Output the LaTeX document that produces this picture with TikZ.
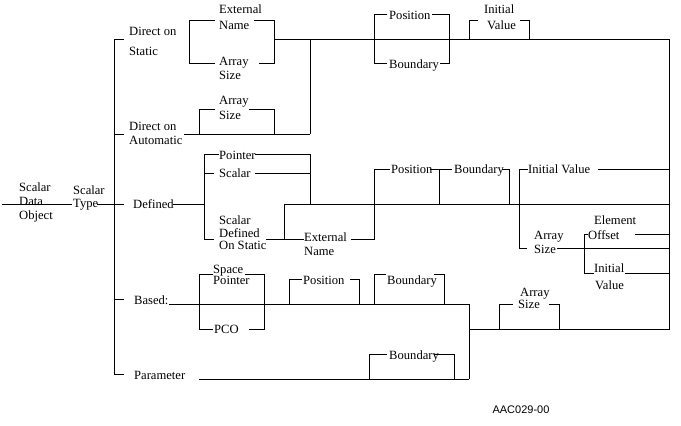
\documentclass[tikz,border=0pt]{standalone}
\usepackage{fontspec}
\setmainfont{Liberation Serif}
\newfontfamily\codefont{Liberation Sans}
\begin{document}
\begin{tikzpicture}[x=1pt,y=-1pt,
  rr/.style={line width=0.8pt},
  lbl/.style={inner sep=0pt,anchor=base west,font=\fontsize{12.6}{14}\selectfont}]
\useasboundingbox (0,0) rectangle (681,426);
% ---------- labels (baseline = centre + 4) ----------
\node[lbl] (sdo1) at (19,191) {Scalar};
\node[lbl] (sdo2) at (19,205) {Data};
\node[lbl] (sdo3) at (19,219) {Object};
\node[lbl] (st1) at (73,194) {Scalar};
\node[lbl] (st2) at (73,207) {Type};
\node[lbl] (dos1) at (129,35) {Direct on};
\node[lbl] (dos2) at (129,55) {Static};
\node[lbl] (en1) at (219,13) {External};
\node[lbl] (en2) at (219,29) {Name};
\node[lbl] (as1) at (219,65) {Array};
\node[lbl] (as2) at (219,79) {Size};
\node[lbl] (as3) at (219,104) {Array};
\node[lbl] (as4) at (219,119) {Size};
\node[lbl] (doa1) at (129,130) {Direct on};
\node[lbl] (doa2) at (129,144) {Automatic};
\node[lbl] (pos1) at (389,19) {Position};
\node[lbl] (bnd1) at (389,68) {Boundary};
\node[lbl] (iv1) at (484,13) {Initial};
\node[lbl] (iv2) at (487,29) {Value};
\node[lbl] (def) at (133,208) {Defined};
\node[lbl] (ptr) at (219,159) {Pointer};
\node[lbl] (scl) at (219,177) {Scalar};
\node[lbl] (sdf1) at (219,224) {Scalar};
\node[lbl] (sdf2) at (219,237) {Defined};
\node[lbl] (sdf3) at (219,249) {On Static};
\node[lbl] (en3) at (304,241) {External};
\node[lbl] (en4) at (304,255) {Name};
\node[lbl] (pos2) at (391,173) {Position};
\node[lbl] (bnd2) at (454,173) {Boundary};
\node[lbl] (iv3) at (528,173) {Initial Value};
\node[lbl] (eo1) at (594,224) {Element};
\node[lbl] (eo2) at (588,239) {Offset};
\node[lbl] (as5) at (534,239) {Array};
\node[lbl] (as6) at (534,253) {Size};
\node[lbl] (iv4) at (594,272) {Initial};
\node[lbl] (iv5) at (595,289) {Value};
\node[lbl] (bsd) at (134,304) {Based:};
\node[lbl] (sp1) at (213,273) {Space};
\node[lbl] (sp2) at (213,284) {Pointer};
\node[lbl] (pco) at (214,333) {PCO};
\node[lbl] (pos3) at (303,284) {Position};
\node[lbl] (bnd3) at (387,284) {Boundary};
\node[lbl] (as7) at (520,296) {Array};
\node[lbl] (as8) at (518,308) {Size};
\node[lbl] (bnd4) at (389,359) {Boundary};
\node[lbl] (par) at (134,379) {Parameter};
\node[inner sep=0pt,anchor=base,font=\codefont\fontsize{11}{13}\selectfont] (code) at (521,413) {AAC029-00};
% ---------- railroad lines ----------
% entry
\draw[rr] (2,204) -- (72,204);
\draw[rr] (97,204) -- (124,204);
\draw[rr] (173,204) -- (204,204);
% main vertical and ticks
\draw[rr] (124,39) -- (114,39) -- (114,374) -- (124,374);
\draw[rr] (114,134) -- (124,134);
\draw[rr] (114,299) -- (124,299);
% Direct on Static
\draw[rr] (215,20) -- (189,20) -- (189,63) -- (215,63);
\draw[rr] (254,20) -- (274,20) -- (274,63) -- (259,63);
\draw[rr] (274,39) -- (669,39) -- (669,329) -- (469,329);
\draw[rr] (310,39) -- (310,134);
% Direct on Automatic
\draw[rr] (184,134) -- (310,134);
\draw[rr] (199,134) -- (199,109) -- (215,109);
\draw[rr] (249,109) -- (274,109) -- (274,134);
% Position / Boundary (top)
\draw[rr] (387,14) -- (374,14) -- (374,63) -- (387,63);
\draw[rr] (432,14) -- (449,14) -- (449,63) -- (440,63);
% Initial Value (top)
\draw[rr] (469,39) -- (469,20) -- (478,20);
\draw[rr] (520,20) -- (529,20) -- (529,39);
% Defined
\draw[rr] (204,154) -- (204,239) -- (214,239);
\draw[rr] (204,154) -- (219,154);
\draw[rr] (255,154) -- (310,154) -- (310,204);
\draw[rr] (204,173) -- (214,173);
\draw[rr] (255,173) -- (310,173);
\draw[rr] (284,204) -- (669,204);
\draw[rr] (284,204) -- (284,239);
\draw[rr] (266,239) -- (304,239);
\draw[rr] (351,239) -- (374,239) -- (374,169) -- (390,169);
\draw[rr] (430,169) -- (452,169);
\draw[rr] (439,169) -- (439,204);
\draw[rr] (502,169) -- (509,169) -- (509,204);
\draw[rr] (528,169) -- (519,169) -- (519,248) -- (527,248);
\draw[rr] (598,169) -- (669,169);
\draw[rr] (557,248) -- (669,248);
\draw[rr] (588,234) -- (584,234) -- (584,273) -- (594,273);
\draw[rr] (635,234) -- (669,234);
\draw[rr] (625,273) -- (669,273);
% Based
\draw[rr] (169,304) -- (469,304);
\draw[rr] (213,274) -- (199,274) -- (199,329) -- (213,329);
\draw[rr] (245,274) -- (264,274) -- (264,329) -- (249,329);
\draw[rr] (289,304) -- (289,279) -- (302,279);
\draw[rr] (350,279) -- (359,279) -- (359,304);
\draw[rr] (374,304) -- (374,274) -- (386,274);
\draw[rr] (434,274) -- (444,274) -- (444,304);
\draw[rr] (469,304) -- (469,379);
\draw[rr] (513,304) -- (499,304) -- (499,329);
\draw[rr] (549,304) -- (559,304) -- (559,329);
% Parameter
\draw[rr] (199,379) -- (469,379);
\draw[rr] (369,379) -- (369,354) -- (387,354);
\draw[rr] (434,354) -- (454,354) -- (454,379);
\end{tikzpicture}
\end{document}
